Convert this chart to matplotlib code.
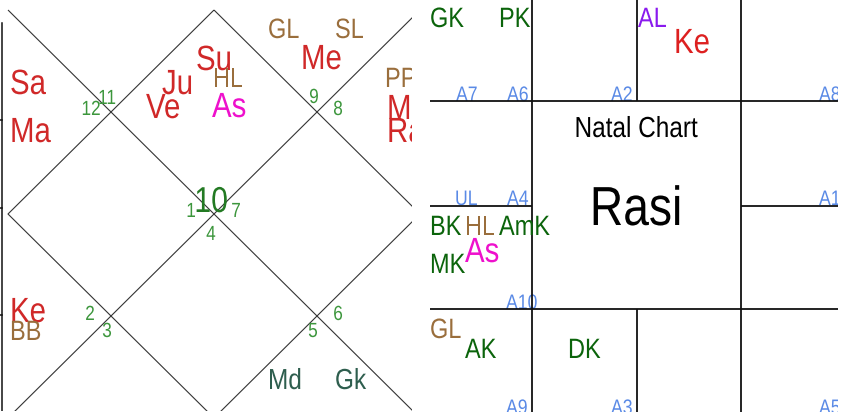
import matplotlib
matplotlib.use("Agg")
import matplotlib.pyplot as plt
from matplotlib.patheffects import AbstractPathEffect
from matplotlib.transforms import Affine2D

plt.rcParams['font.family'] = ['Liberation Sans', 'DejaVu Sans']

W, H = 853, 416
PT = 0.72  # points per pixel at dpi 100
SX = 0.84  # horizontal squeeze of the reference's lettering


class Squeeze(AbstractPathEffect):
    """Draw the text narrower (the reference uses a condensed face)."""

    def __init__(self, sx=SX, anchor='left'):
        super().__init__()
        self.sx = sx
        self.anchor = anchor

    def draw_path(self, renderer, gc, tpath, affine, rgbFace=None):
        cx = 0.0
        if self.anchor == 'center':
            ext = tpath.get_extents()
            cx = (ext.x0 + ext.x1) / 2
        t = Affine2D().translate(-cx, 0).scale(self.sx, 1).translate(cx, 0) + affine
        renderer.draw_path(gc, tpath, t, rgbFace)


SQ_L = [Squeeze(anchor='left')]
SQ_C = [Squeeze(anchor='center')]

# ---------------- data: North-Indian (diamond) chart ----------------
left_labels = ['Sa', 'Ma', 'Ju', 'Ve', 'Su', 'HL', 'As', 'GL', 'SL', 'Me',
               'PP', 'Mo', 'Ra', 'Ke', 'BB', 'Md', 'Gk']
left_kinds = ['planet', 'planet', 'planet', 'planet', 'planet', 'special', 'asc',
              'special', 'special', 'planet', 'special', 'planet', 'planet',
              'planet', 'special', 'upagraha', 'upagraha']
left_x = [10, 10, 162, 146, 196, 213, 212, 268, 335, 301, 385, 387, 387, 10, 10, 268, 335]
left_y = [94, 142, 94, 118, 70, 87, 117, 38, 38, 69, 87, 119, 142, 322, 340, 389, 389]

house_numbers = ['12', '11', '9', '8', '1', '7', '4', '2', '3', '6', '5']
house_x = [91, 107, 314, 338, 191, 236, 211, 90, 107, 338, 313]
house_y = [115, 104, 103, 115, 217, 217, 240, 320, 337, 320, 337]
asc_sign = '10'

# ---------------- data: South-Indian (square) chart ----------------
right_labels = ['GK', 'PK', 'AL', 'Ke', 'BK', 'HL', 'AmK', 'MK', 'As', 'GL', 'AK', 'DK']
right_kinds = ['karaka', 'karaka', 'arudha', 'planet2', 'karaka', 'special', 'karaka',
               'karaka', 'asc', 'special', 'karaka', 'karaka']
right_x = [430, 499, 638, 674, 430, 465, 499, 430, 465, 430, 465, 568]
right_y = [27, 27, 27, 53, 235, 235, 235, 273, 262, 338, 358, 358]

arudha_labels = ['A7', 'A6', 'A2', 'A8', 'UL', 'A4', 'A1', 'A10', 'A9', 'A3', 'A5']
arudha_x = [456, 507, 611, 819, 455, 507, 819, 506, 506, 611, 819]
arudha_y = [101, 101, 101, 101, 205, 205, 205, 309, 414, 414, 414]

chart_title = 'Natal Chart'
chart_name = 'Rasi'

# colour, em size in pixels
styles = {
    'planet':   ('#d02828', 35),
    'planet2':  ('#dd2020', 35),
    'asc':      ('#ee10cc', 35),
    'special':  ('#9a6e3c', 28),
    'upagraha': ('#2e5e4e', 29),
    'karaka':   ('#0b640b', 28),
    'arudha':   ('#8a1aee', 28),
}

fig = plt.figure(figsize=(W / 100, H / 100), dpi=100)
fig.patch.set_facecolor('white')

# left panel axes in pixel coordinates
axL = fig.add_axes([0, (H - 411) / H, 412 / W, 411 / H])
axL.set_xlim(0, 412)
axL.set_ylim(411, 0)
axL.axis('off')

# diamond chart structure
x0, x1, y0, y1 = 8, 420, 10, 418
xm, ym = (x0 + x1) / 2, (y0 + y1) / 2
lk = dict(color='#333333', lw=0.8, solid_capstyle='butt')
axL.plot([x0, x1], [y0, y1], **lk)
axL.plot([x1, x0], [y0, y1], **lk)
axL.plot([xm, x1, xm, x0, xm], [y0, ym, y1, ym, y0], **lk)
# border fragment at far left
axL.plot([2, 2], [23, 411], color='#111111', lw=1.1)
for yy in (120, 208, 315):
    axL.plot([0, 2], [yy, yy], color='#111111', lw=1.1)

for lab, kind, x, y in zip(left_labels, left_kinds, left_x, left_y):
    c, s = styles[kind]
    axL.text(x, y, lab, color=c, fontsize=s * PT, ha='left', va='baseline',
             clip_on=True, path_effects=SQ_L)
for lab, x, y in zip(house_numbers, house_x, house_y):
    axL.text(x, y, lab, color='#3c963c', fontsize=20.5 * PT, ha='center',
             va='baseline', clip_on=True, path_effects=SQ_C)
axL.text(211, 212, asc_sign, color='#237a23', fontsize=36 * PT, ha='center',
         va='baseline', clip_on=True, path_effects=SQ_C)

# right panel axes
axR = fig.add_axes([430 / W, (H - 412) / H, (838 - 430) / W, 412 / H])
axR.set_xlim(430, 838)
axR.set_ylim(412, 0)
axR.axis('off')

gk = dict(color='#111111', lw=1.3, solid_capstyle='butt')
axR.plot([532, 532], [0, 412], **gk)
axR.plot([741, 741], [0, 412], **gk)
axR.plot([637, 637], [0, 101], **gk)
axR.plot([637, 637], [309, 412], **gk)
axR.plot([430, 838], [101, 101], **gk)
axR.plot([430, 838], [309, 309], **gk)
axR.plot([430, 532], [206, 206], **gk)
axR.plot([741, 838], [206, 206], **gk)

for lab, x, y in zip(arudha_labels, arudha_x, arudha_y):
    axR.text(x, y, lab, color='#5a8ae6', fontsize=21 * PT, ha='left', va='baseline',
             clip_on=True, zorder=1, path_effects=SQ_L)
for lab, kind, x, y in zip(right_labels, right_kinds, right_x, right_y):
    c, s = styles[kind]
    axR.text(x, y, lab, color=c, fontsize=s * PT, ha='left', va='baseline',
             clip_on=True, path_effects=SQ_L)

axR.text(636, 137, chart_title, color='black', fontsize=29 * PT, ha='center',
         va='baseline', path_effects=SQ_C)
axR.text(636, 225, chart_name, color='black', fontsize=55 * PT, ha='center',
         va='baseline', path_effects=SQ_C)

fig.savefig('out.png', dpi=100, facecolor='white')
